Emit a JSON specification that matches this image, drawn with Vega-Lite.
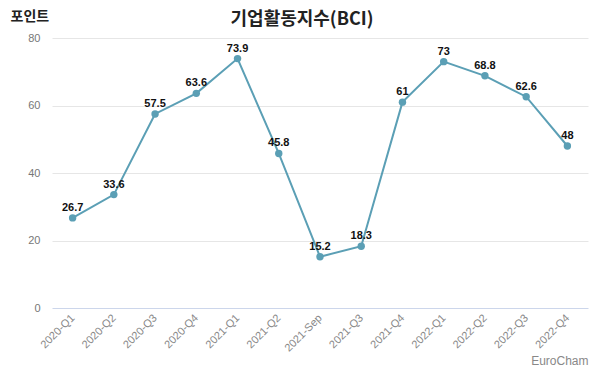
{
  "$schema": "https://vega.github.io/schema/vega-lite/v6.json",
  "width": 536,
  "height": 270,
  "autosize": "none",
  "padding": {"left": 52, "top": 38, "right": 12, "bottom": 60},
  "background": "white",
  "title": {"text": "기업활동지수(BCI)", "font": "Noto Sans CJK KR", "fontSize": 18, "fontWeight": "bold", "color": "#222", "anchor": "middle", "offset": 10, "dx": -18, "dy": 30},
  "config": {"view": {"stroke": null}},
  "data": {"values": [
    {"q": "2020-Q1", "v": 26.7},
    {"q": "2020-Q2", "v": 33.6},
    {"q": "2020-Q3", "v": 57.5},
    {"q": "2020-Q4", "v": 63.6},
    {"q": "2021-Q1", "v": 73.9},
    {"q": "2021-Q2", "v": 45.8},
    {"q": "2021-Sep", "v": 15.2},
    {"q": "2021-Q3", "v": 18.3},
    {"q": "2021-Q4", "v": 61},
    {"q": "2022-Q1", "v": 73},
    {"q": "2022-Q2", "v": 68.8},
    {"q": "2022-Q3", "v": 62.6},
    {"q": "2022-Q4", "v": 48}
  ]},
  "encoding": {
    "x": {"field": "q", "type": "ordinal", "sort": null, "scale": {"type": "point", "padding": 0.5},
      "axis": {"title": "EuroCham", "titleX": 536, "titleY": 52, "titleAlign": "right", "titleBaseline": "middle", "titleFont": "Liberation Sans", "titleFontSize": 12, "titleFontWeight": "normal", "titleColor": "#888",
        "labelAngle": -45, "labelAlign": "right", "labelBaseline": "middle", "labelFont": "Liberation Sans", "labelFontSize": 11, "labelColor": "#888", "ticks": false, "domain": false, "labelPadding": 8, "grid": false}},
    "y": {"field": "v", "type": "quantitative", "scale": {"domain": [0, 80]},
      "axis": {"values": [0, 20, 40, 60, 80], "title": "포인트", "titleAngle": 0, "titleX": -42, "titleY": -22, "titleAlign": "left", "titleBaseline": "middle", "titleFont": "Noto Sans CJK KR", "titleFontSize": 14, "titleFontWeight": "bold", "titleColor": "#222",
        "labelFont": "Liberation Sans", "labelFontSize": 11, "labelColor": "#777", "labelPadding": 12, "ticks": false, "domain": false,
        "gridColor": {"condition": {"test": "datum.value === 0", "value": "#ccd6eb"}, "value": "#e6e6e6"}}}
  },
  "layer": [
    {"mark": {"type": "line", "color": "#5b9fb5", "strokeWidth": 2}},
    {"mark": {"type": "point", "filled": true, "color": "#5b9fb5", "size": 55, "opacity": 1}},
    {"mark": {"type": "text", "dy": -10, "font": "Liberation Sans", "fontSize": 11, "fontWeight": "bold", "color": "#111"}, "encoding": {"text": {"field": "v", "type": "quantitative"}}}
  ]
}
